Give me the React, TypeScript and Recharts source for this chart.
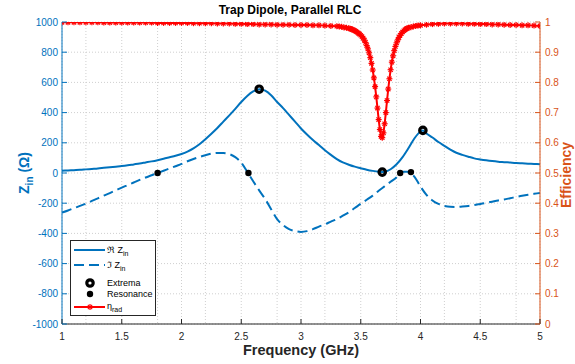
import { ComposedChart, Line, Scatter, XAxis, YAxis, CartesianGrid } from 'recharts';

const BLUE = '#0072BD';
const ORANGE = '#D95319';
const AXIS = '#262626';
const RED = '#FF0000';
const FONT = '"Liberation Sans", Arial, Helvetica, sans-serif';

// Re{Zin} (ohm) vs frequency (GHz)
const reFreq = [1.00, 1.05, 1.10, 1.15, 1.20, 1.25, 1.30, 1.35, 1.40, 1.45, 1.50, 1.55, 1.60, 1.65, 1.70, 1.75, 1.80, 1.85, 1.90, 1.95,
  2.00, 2.05, 2.10, 2.15, 2.20, 2.25, 2.30, 2.35, 2.40, 2.45, 2.50, 2.55, 2.60, 2.65, 2.70, 2.75, 2.80, 2.85, 2.90, 2.95,
  3.00, 3.05, 3.10, 3.15, 3.20, 3.25, 3.30, 3.35, 3.40, 3.45, 3.50, 3.55, 3.60, 3.65, 3.68, 3.70, 3.75, 3.80, 3.85, 3.90, 3.95,
  4.00, 4.02, 4.05, 4.10, 4.15, 4.20, 4.25, 4.30, 4.35, 4.40, 4.45, 4.50, 4.55, 4.60, 4.65, 4.70, 4.75, 4.80, 4.85, 4.90, 4.95, 5.00];
const reZ = [15, 17, 19, 21, 24, 27, 30, 34, 38, 42, 46, 51, 57, 63, 70, 77, 85, 94, 104, 114,
  126, 142, 163, 190, 224, 260, 298, 340, 382, 425, 470, 510, 540, 555, 545, 515, 470, 430, 385, 340,
  295, 255, 218, 185, 150, 120, 92, 70, 55, 42, 32, 22, 14, 8, 6, 8, 25, 58, 105, 165, 230,
  275, 282, 262, 235, 205, 180, 155, 134, 120, 108, 97, 90, 84, 79, 75, 72, 69, 66, 64, 62, 60, 58];

// Im{Zin} (ohm)
const imFreq = [1.00, 1.05, 1.10, 1.15, 1.20, 1.25, 1.30, 1.35, 1.40, 1.45, 1.50, 1.55, 1.60, 1.65, 1.70, 1.75, 1.80, 1.85, 1.90, 1.95,
  2.00, 2.05, 2.10, 2.15, 2.20, 2.25, 2.30, 2.35, 2.40, 2.45, 2.50, 2.55, 2.60, 2.65, 2.70, 2.75, 2.80, 2.85, 2.90, 2.95,
  3.00, 3.05, 3.10, 3.15, 3.20, 3.25, 3.30, 3.35, 3.40, 3.45, 3.50, 3.55, 3.60, 3.65, 3.70, 3.75,
  3.80, 3.83, 3.86, 3.89, 3.92, 3.95, 4.00,
  4.05, 4.10, 4.15, 4.20, 4.25, 4.30, 4.35, 4.40, 4.45, 4.50, 4.55, 4.60, 4.65, 4.70, 4.75, 4.80, 4.85, 4.90, 4.95, 5.00];
const imZ = [-262, -248, -233, -218, -203, -185, -168, -150, -133, -115, -97, -80, -63, -46, -30, -15, 0, 15, 30, 45,
  60, 78, 93, 106, 118, 128, 133, 132, 125, 105, 68, 8, -55, -115, -172, -240, -305, -345, -372, -385,
  -390, -385, -372, -355, -340, -322, -305, -283, -260, -232, -204, -177, -150, -118, -88, -58,
  -28, 0, 8, 8, 0, -25, -90,
  -145, -182, -205, -218, -224, -225, -222, -218, -212, -205, -198, -190, -182, -175, -167, -159, -151, -144, -138, -132];

// radiation efficiency
const effFreq = [1.00, 1.05, 1.10, 1.15, 1.20, 1.25, 1.30, 1.35, 1.40, 1.45, 1.50, 1.55, 1.60, 1.65, 1.70, 1.75, 1.80, 1.85, 1.90, 1.95,
  2.00, 2.05, 2.10, 2.15, 2.20, 2.25, 2.30, 2.35, 2.40, 2.45, 2.50, 2.55, 2.60, 2.65, 2.70, 2.75, 2.80, 2.85, 2.90, 2.95,
  3.00, 3.05, 3.10, 3.15, 3.20, 3.25, 3.30, 3.32, 3.34, 3.36, 3.38, 3.40,
  3.41, 3.42, 3.43, 3.44, 3.45, 3.46, 3.47, 3.48, 3.49, 3.50, 3.51, 3.52, 3.53, 3.54, 3.55, 3.56, 3.57, 3.58, 3.59, 3.60,
  3.61, 3.62, 3.63, 3.64, 3.65, 3.66, 3.67, 3.68, 3.69, 3.70, 3.71, 3.72, 3.73, 3.74, 3.75, 3.76, 3.77, 3.78, 3.79, 3.80,
  3.81, 3.82, 3.83, 3.84, 3.85, 3.86, 3.87, 3.88, 3.89, 3.90, 3.92, 3.94, 3.96, 3.98, 4.00,
  4.05, 4.10, 4.15, 4.20, 4.25, 4.30, 4.35, 4.40, 4.45, 4.50, 4.55, 4.60, 4.65, 4.70, 4.75, 4.80, 4.85, 4.90, 4.95, 5.00];
const effVals = [0.999, 0.999, 0.999, 0.999, 0.999, 0.999, 0.999, 0.998, 0.998, 0.998, 0.998, 0.998, 0.998, 0.998, 0.998, 0.998, 0.997, 0.997, 0.997, 0.997,
  0.997, 0.997, 0.996, 0.996, 0.996, 0.996, 0.995, 0.995, 0.995, 0.994, 0.994, 0.993, 0.993, 0.992, 0.992, 0.992, 0.991, 0.991, 0.991, 0.990,
  0.990, 0.990, 0.989, 0.989, 0.988, 0.987, 0.986, 0.985, 0.984, 0.982, 0.981, 0.979,
  0.978, 0.977, 0.975, 0.973, 0.971, 0.969, 0.966, 0.963, 0.960, 0.956, 0.952, 0.947, 0.940, 0.932, 0.922, 0.911, 0.898, 0.882, 0.863, 0.841,
  0.815, 0.786, 0.752, 0.715, 0.677, 0.644, 0.621, 0.617, 0.633, 0.663, 0.700, 0.740, 0.778, 0.812, 0.842, 0.867, 0.888, 0.905, 0.919, 0.931,
  0.941, 0.949, 0.956, 0.962, 0.967, 0.971, 0.974, 0.977, 0.979, 0.981, 0.983, 0.985, 0.987, 0.988, 0.989,
  0.991, 0.993, 0.994, 0.995, 0.995, 0.995, 0.995, 0.994, 0.994, 0.993, 0.993, 0.992, 0.992, 0.991, 0.990, 0.990, 0.989, 0.989, 0.988, 0.987];

const extremaFreq = [2.65, 3.68, 4.02];
const extremaZ = [555, 6, 282];
const resonanceFreq = [1.80, 2.56, 3.83, 3.92];
const resonanceZ = [0, 0, 0, 6];

const xTicks = [1, 1.5, 2, 2.5, 3, 3.5, 4, 4.5, 5];
const zTicks = [-1000, -800, -600, -400, -200, 0, 200, 400, 600, 800, 1000];
const effTicks = [0, 0.1, 0.2, 0.3, 0.4, 0.5, 0.6, 0.7, 0.8, 0.9, 1];
const xMinor = Array.from({ length: 41 }, (_, i) => +(1 + i * 0.1).toFixed(1));
const zMinor = Array.from({ length: 41 }, (_, i) => -1000 + i * 50);

const zip = (xs: number[], ys: number[]) => xs.map((f, i) => ({ f, v: ys[i] }));
const reData = zip(reFreq, reZ);
const imData = zip(imFreq, imZ);
const effData = zip(effFreq, effVals);
const extremaData = zip(extremaFreq, extremaZ);
const resonanceData = zip(resonanceFreq, resonanceZ);

const Star = ({ cx, cy, s = 3 }: { cx: number; cy: number; s?: number }) => (
  <g stroke={RED} strokeWidth={1.2}>
    <line x1={cx - s} y1={cy} x2={cx + s} y2={cy} />
    <line x1={cx} y1={cy - s} x2={cx} y2={cy + s} />
    <line x1={cx - s * 0.72} y1={cy - s * 0.72} x2={cx + s * 0.72} y2={cy + s * 0.72} />
    <line x1={cx - s * 0.72} y1={cy + s * 0.72} x2={cx + s * 0.72} y2={cy - s * 0.72} />
  </g>
);

const Ring = ({ cx, cy }: any) => (
  <circle cx={cx} cy={cy} r={3.2} fill="none" stroke="#000" strokeWidth={3.2} />
);
const Dot = ({ cx, cy }: any) => <circle cx={cx} cy={cy} r={3.2} fill="#000" />;

// inward (Matlab style) ticks drawn from the axis edge position
const BottomTick = ({ x, y, payload }: any) => (
  <g>
    <line x1={x} y1={y} x2={x} y2={y - 5} stroke={AXIS} />
    <text x={x} y={y + 16} textAnchor="middle" fill={AXIS} fontSize={10}>{payload.value}</text>
  </g>
);
const TopTick = ({ x, y }: any) => <line x1={x} y1={y} x2={x} y2={y + 5} stroke={AXIS} />;
const LeftTick = ({ x, y, payload }: any) => (
  <g>
    <line x1={x} y1={y} x2={x + 5} y2={y} stroke={BLUE} />
    <text x={x - 4} y={y + 3.5} textAnchor="end" fill={BLUE} fontSize={10}>{payload.value}</text>
  </g>
);
const RightTick = ({ x, y, payload }: any) => (
  <g>
    <line x1={x} y1={y} x2={x - 5} y2={y} stroke={ORANGE} />
    <text x={x + 5} y={y + 3.5} textAnchor="start" fill={ORANGE} fontSize={10}>{payload.value}</text>
  </g>
);

function LegendBox() {
  const row = (top: number, icon: React.ReactNode, label: React.ReactNode) => (
    <div style={{ position: 'absolute', left: 0, top, height: 12, width: 86, display: 'flex', alignItems: 'center' }}>
      <svg width={36} height={12} style={{ flex: 'none' }}>{icon}</svg>
      <span style={{ fontSize: 9, color: '#000', whiteSpace: 'nowrap' }}>{label}</span>
    </div>
  );
  const sub = (t: string) => <sub style={{ fontSize: 7, verticalAlign: -3 }}>{t}</sub>;
  return (
    <div style={{ position: 'absolute', left: 70, top: 240, width: 86, height: 76, border: '1px solid #262626', background: '#fff', boxSizing: 'border-box' }}>
      {row(3, <line x1={3} y1={6} x2={34} y2={6} stroke={BLUE} strokeWidth={2} />, <>ℜ Z{sub('in')}</>)}
      {row(18, <line x1={3} y1={6} x2={34} y2={6} stroke={BLUE} strokeWidth={2} strokeDasharray="10 5" />, <>ℑ Z{sub('in')}</>)}
      {row(36, <Ring cx={19} cy={6} />, 'Extrema')}
      {row(47, <Dot cx={19} cy={6} />, 'Resonance')}
      {row(60, <g><line x1={3} y1={6} x2={34} y2={6} stroke={RED} strokeWidth={2} /><Star cx={19} cy={6} /></g>, <>η{sub('rad')}</>)}
    </div>
  );
}

export default function App() {
  return (
    <div style={{ position: 'absolute', left: 0, top: 0, width: 575, height: 364, background: '#fff', fontFamily: FONT }}>
      <ComposedChart width={575} height={364} margin={{ top: 22, right: 0, bottom: 0, left: 0 }} style={{ fontFamily: FONT }}>
        <XAxis
          xAxisId="x" type="number" dataKey="f" domain={[1, 5]} ticks={xTicks} allowDataOverflow interval={0}
          height={40} tickSize={0} tickMargin={0} tickLine={false} stroke={AXIS} tick={<BottomTick />}
        />
        <XAxis
          xAxisId="top" orientation="top" type="number" dataKey="f" domain={[1, 5]} ticks={xTicks} allowDataOverflow interval={0}
          height={0} tickSize={0} tickMargin={0} tickLine={false} stroke={AXIS} tick={<TopTick />}
        />
        <YAxis
          yAxisId="z" type="number" domain={[-1000, 1000]} ticks={zTicks} allowDataOverflow interval={0}
          width={62} tickSize={0} tickMargin={0} tickLine={false} stroke={BLUE} tick={<LeftTick />}
        />
        <YAxis
          yAxisId="eff" orientation="right" type="number" domain={[0, 1]} ticks={effTicks} allowDataOverflow interval={0}
          width={35} tickSize={0} tickMargin={0} tickLine={false} stroke={ORANGE} tick={<RightTick />}
        />
        <XAxis xAxisId="minor" type="number" dataKey="f" domain={[1, 5]} ticks={xMinor} hide height={0} allowDataOverflow />
        <YAxis yAxisId="minor" type="number" domain={[-1000, 1000]} ticks={zMinor} hide width={0} allowDataOverflow />
        <CartesianGrid xAxisId="minor" yAxisId="minor" stroke="#cfcfcf" strokeDasharray="1 2" />
        <Line xAxisId="x" yAxisId="z" data={reData} dataKey="v" type="monotone" stroke={BLUE} strokeWidth={2}
          dot={false} activeDot={false} isAnimationActive={false} />
        <Line xAxisId="x" yAxisId="z" data={imData} dataKey="v" type="monotone" stroke={BLUE} strokeWidth={2}
          strokeDasharray="10 5" dot={false} activeDot={false} isAnimationActive={false} />
        <Line xAxisId="x" yAxisId="eff" data={effData} dataKey="v" type="linear" stroke={RED} strokeWidth={2}
          dot={(p: any) => <Star key={p.index} cx={p.cx} cy={p.cy} />} activeDot={false} isAnimationActive={false} />
        <Scatter xAxisId="x" yAxisId="z" data={extremaData} dataKey="v" shape={(p: any) => <Ring cx={p.cx} cy={p.cy} />}
          isAnimationActive={false} />
        <Scatter xAxisId="x" yAxisId="z" data={resonanceData} dataKey="v" shape={(p: any) => <Dot cx={p.cx} cy={p.cy} />}
          isAnimationActive={false} />
      </ComposedChart>

      <div style={{ position: 'absolute', left: 190, width: 200, top: 4, textAlign: 'center', fontSize: 12, lineHeight: '12px', fontWeight: 'bold', color: '#000' }}>
        Trap Dipole, Parallel RLC
      </div>
      <div style={{ position: 'absolute', left: 201, width: 200, top: 343, textAlign: 'center', fontSize: 14.5, lineHeight: '15px', fontWeight: 'bold', color: AXIS }}>
        Frequency (GHz)
      </div>
      <div style={{ position: 'absolute', left: 25, top: 173, transform: 'translate(-50%, -50%) rotate(-90deg)', fontSize: 14, fontWeight: 'bold', color: BLUE, whiteSpace: 'nowrap' }}>
        Z<sub style={{ fontSize: 10, verticalAlign: -4 }}>in</sub> (Ω)
      </div>
      <div style={{ position: 'absolute', left: 566, top: 175, transform: 'translate(-50%, -50%) rotate(-90deg)', fontSize: 14, fontWeight: 'bold', color: ORANGE, whiteSpace: 'nowrap' }}>
        Efficiency
      </div>
      <LegendBox />
    </div>
  );
}
